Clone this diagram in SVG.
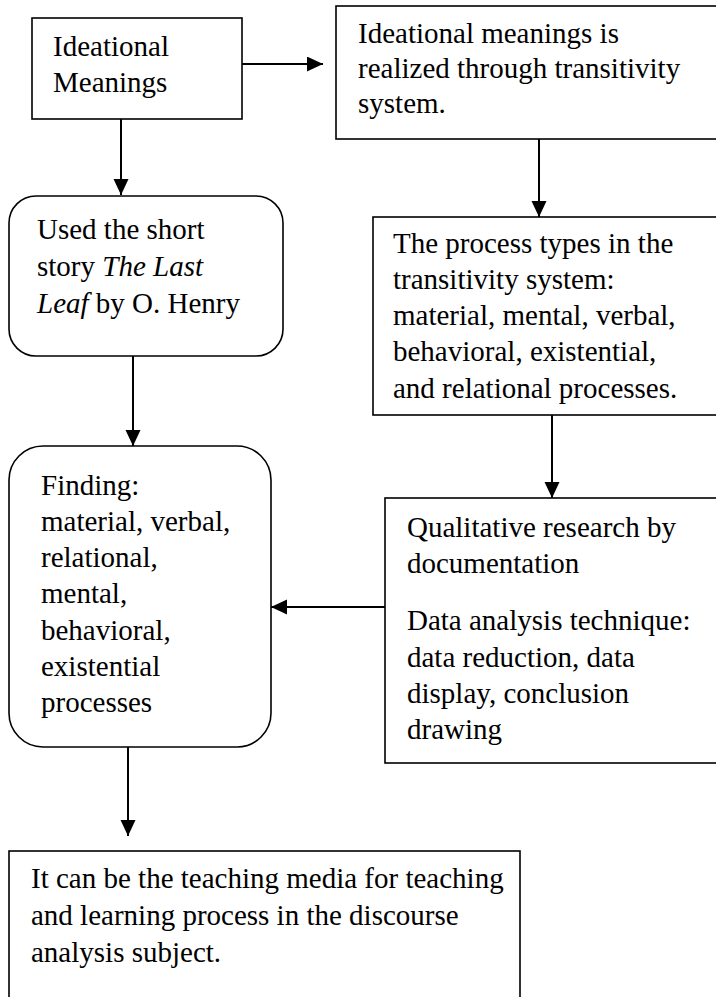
<svg xmlns="http://www.w3.org/2000/svg" width="716" height="997" viewBox="0 0 716 997" font-family="Liberation Serif, Times New Roman, Tinos, DejaVu Serif, serif">
<style>
.box{fill:#fff;stroke:#000;stroke-width:1.6}
.t{font-size:29px;fill:#000}
.c{stroke:#000;stroke-width:2;fill:none;marker-end:url(#ah)}
</style>
<defs>
<marker id="ah" markerUnits="userSpaceOnUse" markerWidth="17" markerHeight="16" refX="16" refY="7.5" orient="auto">
<path d="M0,0 L16,7.5 L0,15 z" fill="#000"/>
</marker>
</defs>
<rect width="716" height="997" fill="#fff"/>
<g id="connectors">
<line class="c" x1="242" y1="64" x2="323" y2="64"/>
<line class="c" x1="121" y1="119" x2="121" y2="195"/>
<line class="c" x1="539" y1="139" x2="539" y2="217"/>
<line class="c" x1="133" y1="356" x2="133" y2="446"/>
<line class="c" x1="552" y1="415" x2="552" y2="498"/>
<line class="c" x1="385" y1="607" x2="271" y2="607"/>
<line class="c" x1="128" y1="747" x2="128" y2="836"/>
</g>
<g id="n1">
<rect class="box" x="32" y="18" width="210" height="101"/>
<text class="t" x="53" y="56">Ideational</text>
<text class="t" x="53" y="92">Meanings</text>
</g>
<g id="n2">
<rect class="box" x="336" y="6" width="390" height="133"/>
<text class="t" x="358" y="43">Ideational meanings is</text>
<text class="t" x="358" y="78">realized through transitivity</text>
<text class="t" x="358" y="113">system.</text>
</g>
<g id="n3">
<rect class="box" x="9" y="196" width="274" height="160" rx="27" ry="27"/>
<text class="t" x="37" y="239">Used the short</text>
<text class="t" x="37" y="276">story <tspan font-style="italic">The Last</tspan></text>
<text class="t" x="37" y="313"><tspan font-style="italic">Leaf</tspan> by O. Henry</text>
</g>
<g id="n4">
<rect class="box" x="373" y="217" width="353" height="198"/>
<text class="t" x="393" y="253">The process types in the</text>
<text class="t" x="393" y="289">transitivity system:</text>
<text class="t" x="393" y="325">material, mental, verbal,</text>
<text class="t" x="393" y="361">behavioral, existential,</text>
<text class="t" x="393" y="398">and relational processes.</text>
</g>
<g id="n5">
<rect class="box" x="9" y="446" width="262" height="301" rx="34" ry="34"/>
<text class="t" x="41" y="495">Finding:</text>
<text class="t" x="41" y="531">material, verbal,</text>
<text class="t" x="41" y="567">relational,</text>
<text class="t" x="41" y="603">mental,</text>
<text class="t" x="41" y="640">behavioral,</text>
<text class="t" x="41" y="676">existential</text>
<text class="t" x="41" y="712">processes</text>
</g>
<g id="n6">
<rect class="box" x="385" y="498" width="341" height="265"/>
<text class="t" x="407" y="537">Qualitative research by</text>
<text class="t" x="407" y="573">documentation</text>
<text class="t" x="407" y="630">Data analysis technique:</text>
<text class="t" x="407" y="667">data reduction, data</text>
<text class="t" x="407" y="703">display, conclusion</text>
<text class="t" x="407" y="739">drawing</text>
</g>
<g id="n7">
<rect class="box" x="9" y="851" width="511" height="160"/>
<text class="t" x="31" y="888">It can be the teaching media for teaching</text>
<text class="t" x="31" y="925">and learning process in the discourse</text>
<text class="t" x="31" y="962">analysis subject.</text>
</g>
</svg>
